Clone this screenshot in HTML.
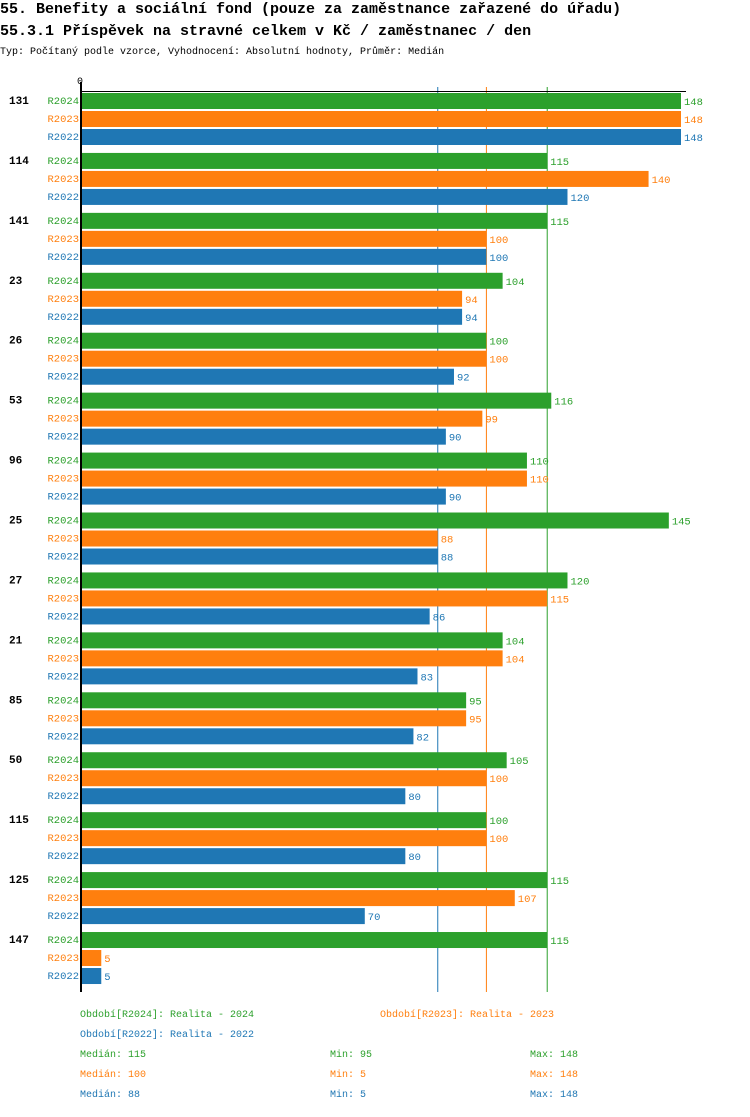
<!DOCTYPE html>
<html><head><meta charset="utf-8">
<style>
body{margin:0;background:#fff;width:750px;height:1112px;overflow:hidden;font-family:"Liberation Mono","DejaVu Sans Mono",monospace;}
svg text{font-family:"Liberation Mono","DejaVu Sans Mono",monospace;}
</style></head><body>
<svg id="chart" width="750" height="1112" xmlns="http://www.w3.org/2000/svg">
<text x="0" y="13" font-size="15" font-weight="bold" fill="#000">55. Benefity a sociální fond (pouze za zaměstnance zařazené do úřadu)</text>
<text x="0" y="35" font-size="15" font-weight="bold" fill="#000">55.3.1 Příspěvek na stravné celkem v Kč / zaměstnanec / den</text>
<text x="0" y="54" font-size="10" fill="#000">Typ: Počítaný podle vzorce, Vyhodnocení: Absolutní hodnoty, Průměr: Medián</text>
<g id="plot"></g>
</svg>
<script>
const categories=["131","114","141","23","26","53","96","25","27","21","85","50","115","125","147"];
const seriesNames=["R2024","R2023","R2022"];
const r2024=[148,115,115,104,100,116,110,145,120,104,95,105,100,115,115];
const r2023=[148,140,100,94,100,99,110,88,115,104,95,100,100,107,5];
const r2022=[148,120,100,94,92,90,90,88,86,83,82,80,80,70,5];
const medians=[115,100,88];
const colors=["#2ca02c","#ff7f0e","#1f77b4"];
const NS="http://www.w3.org/2000/svg";
const g=document.getElementById('plot');
const x0=81, pxPerUnit=600/148;
const xs=v=>x0+v*pxPerUnit;
const groupTop=i=>93+i*59.93;
function el(t,a){const e=document.createElementNS(NS,t);for(const k in a)e.setAttribute(k,a[k]);g.appendChild(e);return e;}
const series=[r2024,r2023,r2022];
medians.forEach((m,s)=>{
  const l=el('line',{x1:xs(m),x2:xs(m),y1:87,y2:992,stroke:colors[s],'stroke-width':1});
  
  
});
categories.forEach((c,i)=>{
  const gt=groupTop(i);
  const t=el('text',{x:9,y:gt+11,'font-size':11,'font-weight':'bold',fill:'#000'});
  t.textContent=c;
  
  
  series.forEach((arr,s)=>{
    const y=gt+s*18;
    const lab=el('text',{x:79,y:y+11,'font-size':10.5,fill:colors[s],'text-anchor':'end'});
    lab.textContent=seriesNames[s];
    
    
    const r=el('rect',{x:x0,y:y,width:xs(arr[i])-x0,height:16,fill:colors[s]});
    
    
    const v=el('text',{x:xs(arr[i])+3,y:y+12,'font-size':10.5,fill:colors[s]});
    v.textContent=arr[i];
    
    
  });
});
const ax=el('line',{x1:81,x2:81,y1:82,y2:992,stroke:'#000','stroke-width':2});


const tl=el('line',{x1:81,x2:686,y1:91.5,y2:91.5,stroke:'#000','stroke-width':1});


const z=el('text',{x:80,y:84,'font-size':10,fill:'#000','text-anchor':'middle'});
z.textContent='0';


const leg=[[80,1017,"Období[R2024]: Realita - 2024",0],[380,1017,"Období[R2023]: Realita - 2023",1],[80,1037,"Období[R2022]: Realita - 2022",2]];
leg.forEach(l=>{const t=el('text',{x:l[0],y:l[1],'font-size':10,fill:colors[l[3]]});t.textContent=l[2];
  
  });
const mins=[95,5,5], maxs=[148,148,148];
[0,1,2].forEach(s=>{
  const y=1057+s*20;
  [[80,"Medián: "+medians[s]],[330,"Min: "+mins[s]],[530,"Max: "+maxs[s]]].forEach(p=>{
    const t=el('text',{x:p[0],y:y,'font-size':10,fill:colors[s]});t.textContent=p[1];
    
    
  });
});
</script>
</body></html>
